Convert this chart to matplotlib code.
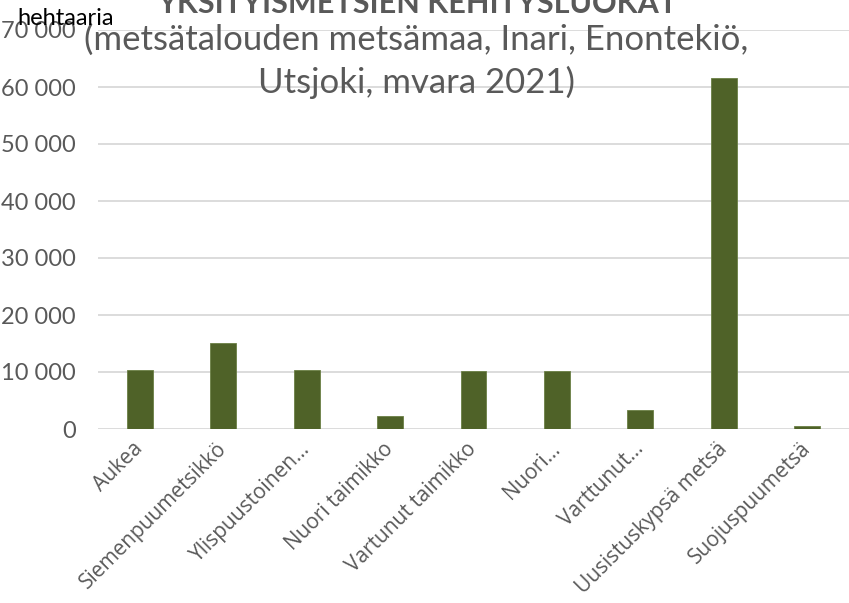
import matplotlib
matplotlib.use("Agg")
import matplotlib.pyplot as plt
from matplotlib.transforms import ScaledTranslation

categories = ["Aukea", "Siemenpuumetsikkö", "Ylispuustoinen…", "Nuori taimikko",
              "Vartunut taimikko", "Nuori…", "Varttunut…", "Uusistuskypsä metsä",
              "Suojuspuumetsä"]
values = [10300, 15100, 10400, 2200, 10100, 10200, 3300, 61600, 600]
yticks = [0, 10000, 20000, 30000, 40000, 50000, 60000, 70000]
ytick_labels = ["0", "10 000", "20 000", "30 000", "40 000", "50 000", "60 000", "70 000"]

plt.rcParams['font.family'] = ['Lato', 'DejaVu Sans']
fig = plt.figure(figsize=(8.49, 6.03), dpi=100)
ax = fig.add_axes([98/849, 1 - 429/603, (849 - 98)/849, (429 - 30)/603])

x = range(len(categories))
ax.bar(x, values, width=0.31, color="#4f6228", edgecolor="#6b7f45", linewidth=0.6, zorder=3)
ax.set_xlim(-0.5, len(categories) - 0.5)
ax.set_ylim(0, 70000)
ax.set_yticks(yticks)
ax.set_yticklabels(ytick_labels, color="#595959", fontsize=17)
ax.set_xticks(list(x))
labels = ax.set_xticklabels(categories, rotation=45, ha="right", rotation_mode="anchor", va="center",
                            color="#595959", fontsize=15, fontfamily="Open Sans")
offset = ScaledTranslation(5/100, 0, fig.dpi_scale_trans)
for lab in labels:
    lab.set_transform(lab.get_transform() + offset)
ax.tick_params(axis="y", length=0, pad=16)
ax.tick_params(axis="x", length=0, pad=12)
ax.grid(axis="y", color="#d9d9d9", linewidth=1.3, zorder=0)
for s in ax.spines.values():
    s.set_visible(False)

fig.text(417/849, 1 - 13/603, "YKSITYISMETSIEN KEHITYSLUOKAT", ha="center", va="baseline",
         fontsize=22, fontweight="bold", color="#595959")
fig.text(416/849, 1 - 50/603, "(metsätalouden metsämaa, Inari, Enontekiö,",
         ha="center", va="baseline", fontsize=25, color="#595959")
fig.text(416/849, 1 - 93/603, "Utsjoki, mvara 2021)",
         ha="center", va="baseline", fontsize=25, color="#595959")
fig.text(17/849, 1 - 25/603, "hehtaaria", ha="left", va="baseline", fontsize=17, color="black")

fig.savefig("out.png", dpi=100)
